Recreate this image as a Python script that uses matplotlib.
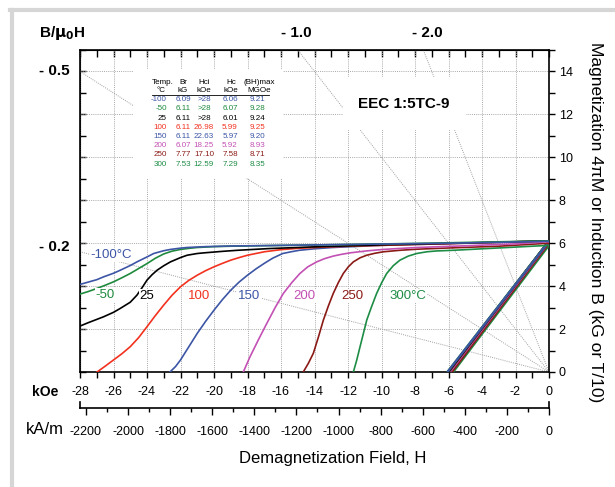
import matplotlib
matplotlib.use("Agg")
import matplotlib.pyplot as plt
from matplotlib import font_manager
from matplotlib.patches import Rectangle
from matplotlib.lines import Line2D

# fonts: narrow face for the tick numbers if it is there
names = {f.name for f in font_manager.fontManager.ttflist}
base = "Liberation Sans" if "Liberation Sans" in names else "DejaVu Sans"
narrow = "Liberation Sans Narrow" if "Liberation Sans Narrow" in names else base
plt.rcParams['font.family'] = [base, 'DejaVu Sans']
plt.rcParams['axes.unicode_minus'] = False

# temperatures and colours of each curve
temps = ['-100', '-50', '25', '100', '150', '200', '250', '300']
colors = ['#3c55a5', '#1f8a3e', '#000000', '#f2311f', '#3c55a5', '#c350b4', '#8a1a16', '#1d8c45']

# intrinsic (4piM) curves, H in kOe, 4piM in kG
H_int = [
    [-28, -27, -26.6, -26, -25.6, -25, -24.6, -24, -23.6, -23, -22.6, -22, -21.6, -20.5,
     -19, -16.7, -14, -10, -6, -3, 0],
    [-28, -27.5, -27, -26.5, -26, -25.5, -25, -24.5, -24, -23.5, -23, -22.5, -22, -21.5,
     -21, -20, -19, -16.7, -12, -8, -4, 0],
    [-28, -27.5, -27, -26.6, -26, -25.6, -25, -24.6, -24.3, -24, -23.7, -23.4, -23, -22.6,
     -22, -21.6, -21, -20.6, -19.5, -18.6, -16.7, -14, -10, -6, -3, 0],
    [-26.98, -26.5, -26, -25.5, -25, -24.5, -24, -23.5, -23, -22.5, -22, -21.5, -21, -20.5,
     -20, -19.5, -19, -18.5, -18, -17, -16, -15, -13.5, -12, -10, -8, -4, 0],
    [-22.63, -22.3, -22, -21.5, -21, -20.5, -20, -19.5, -19, -18.5, -18, -17.5, -17, -16.5,
     -15.9, -15.4, -14.9, -14, -12.9, -11.5, -10, -6, -3, 0],
    [-18.25, -17.85, -17.35, -16.85, -16.35, -15.86, -15.35, -14.87, -14.4, -13.87, -13.4,
     -12.88, -12.4, -11.88, -10.9, -9.9, -7.9, -5, -2, 0],
    [-14.67, -14.37, -14.07, -13.77, -13.47, -13.17, -12.88, -12.58, -12.28, -11.98, -11.68,
     -11.28, -10.88, -10.4, -9.89, -8.9, -7.9, -5.91, -3, 0],
    [-11.68, -11.48, -11.28, -11.08, -10.88, -10.59, -10.29, -9.99, -9.69, -9.3, -8.9, -8.4,
     -7.9, -7.3, -6.7, -5.71, -3.72, -1.73, 0],
]
B_int = [
    [4.08, 4.30, 4.43, 4.60, 4.74, 4.96, 5.13, 5.36, 5.52, 5.65, 5.71, 5.77, 5.80, 5.84,
     5.87, 5.89, 5.92, 5.96, 6.00, 6.04, 6.09],
    [3.63, 3.75, 3.89, 4.04, 4.20, 4.39, 4.59, 4.82, 5.05, 5.30, 5.50, 5.63, 5.71, 5.76,
     5.80, 5.84, 5.86, 5.89, 5.94, 5.99, 6.05, 6.11],
    [2.14, 2.30, 2.45, 2.57, 2.78, 2.96, 3.25, 3.58, 3.92, 4.28, 4.53, 4.74, 4.95, 5.13,
     5.33, 5.44, 5.52, 5.55, 5.62, 5.67, 5.75, 5.83, 5.92, 5.99, 6.05, 6.11],
    [0.0, 0.27, 0.56, 0.85, 1.18, 1.60, 2.11, 2.63, 3.12, 3.58, 3.97, 4.27, 4.51, 4.72,
     4.90, 5.06, 5.21, 5.33, 5.44, 5.60, 5.70, 5.76, 5.82, 5.86, 5.90, 5.94, 6.02, 6.11],
    [0.0, 0.25, 0.56, 1.18, 1.80, 2.36, 2.88, 3.37, 3.81, 4.19, 4.51, 4.80, 5.06, 5.30,
     5.52, 5.60, 5.67, 5.74, 5.80, 5.85, 5.90, 5.98, 6.04, 6.11],
    [0.0, 0.71, 1.50, 2.26, 3.00, 3.66, 4.17, 4.59, 4.90, 5.13, 5.28, 5.40, 5.48, 5.55,
     5.64, 5.71, 5.80, 5.88, 5.97, 6.07],
    [0.0, 0.40, 0.87, 1.62, 2.42, 3.08, 3.66, 4.16, 4.59, 4.90, 5.13, 5.32, 5.44, 5.53,
     5.60, 5.67, 5.72, 5.78, 5.86, 6.00],
    [0.0, 0.55, 1.18, 1.80, 2.42, 3.05, 3.66, 4.16, 4.59, 4.95, 5.21, 5.40, 5.52, 5.60,
     5.64, 5.67, 5.75, 5.83, 5.90],
]

# normal B-H lines: end points (Hc, 0) and (0, Br)
Hc_line = [-6.06, -6.07, -6.01, -5.99, -5.97, -5.92, -5.80, -5.72]
Br_line = [6.09, 6.11, 6.11, 6.11, 6.11, 6.07, 6.00, 5.90]

# permeance coefficient lines B/H
permeance = [0.2, 0.5, 1.0, 2.0]

# data table
tab_temp = ['-100', '-50', '25', '100', '150', '200', '250', '300']
tab_br = ['6.09', '6.11', '6.11', '6.11', '6.11', '6.07', '7.77', '7.53']
tab_hci = ['>28', '>28', '>28', '26.98', '22.63', '18.25', '17.10', '12.59']
tab_hc = ['6.06', '6.07', '6.01', '5.99', '5.97', '5.92', '7.58', '7.29']
tab_bh = ['9.21', '9.28', '9.24', '9.25', '9.20', '8.93', '8.71', '8.35']

W, Hpx = 615, 487
fig = plt.figure(figsize=(W / 100, Hpx / 100), dpi=100)


def fx(x):
    return x / W


def fy(y):
    return 1 - y / Hpx


# light frame round the panel
fig.add_artist(Line2D([fx(12), fx(12)], [fy(10), 0], color='#d6d6d6', lw=3))
fig.add_artist(Line2D([fx(10), 1], [fy(10), fy(10)], color='#d6d6d6', lw=3))

ax = fig.add_axes([fx(80), fy(372), fx(549) - fx(80), fy(50) - fy(372)])
ax.set_xlim(-28, 0)
ax.set_ylim(0, 15)
ax.set_axisbelow(True)

for s in ax.spines.values():
    s.set_linewidth(1.2)

# grid every 2 units
ax.set_xticks(range(-28, 1, 2))
ax.set_xticks(range(-28, 1, 1), minor=True)
ax.set_yticks(range(0, 15, 2))
ax.set_yticks(range(0, 16, 1), minor=True)
ax.grid(True, which='major', color='#a8a8a8', lw=0.7, ls=(0, (1, 1.2)))

# bottom and right ticks point out and carry the labels
ax.tick_params(axis='x', which='both', bottom=True, top=False, direction='out',
               labelsize=9, pad=6, width=1.0, length=4)
ax.tick_params(axis='y', which='both', left=False, right=True, direction='out',
               labelleft=False, labelright=True, labelsize=9, pad=3, width=1.0, length=4)
for lab in ax.get_xticklabels() + ax.get_yticklabels():
    lab.set_family([narrow, 'DejaVu Sans'])

# top and left ticks point in, no labels
top = ax.secondary_xaxis('top')
top.set_xticks(range(-28, 1, 1))
top.tick_params(direction='in', length=5, width=1.0, labeltop=False)
left = ax.secondary_yaxis('left')
left.set_yticks(range(0, 16, 1))
left.tick_params(direction='in', length=4, width=1.0, labelleft=False)

# load lines from the origin
for p in permeance:
    ax.plot([0, -28], [0, 28 * p], color='#a0a0a0', lw=0.7, ls=(0, (1, 1.2)), zorder=1)

# white boxes behind table and title
ax.add_patch(Rectangle((fx(133), fy(178)), fx(283) - fx(133), fy(70) - fy(178),
                       transform=fig.transFigure, facecolor='white', edgecolor='none', zorder=1.5))
ax.add_patch(Rectangle((fx(343), fy(130)), fx(466) - fx(343), fy(77) - fy(130),
                       transform=fig.transFigure, facecolor='white', edgecolor='none', zorder=1.5))

# normal curves
for i in range(len(temps) - 1, -1, -1):
    ax.plot([Hc_line[i], 0], [0, Br_line[i]], color=colors[i], lw=1.6, zorder=3,
            solid_capstyle='butt')

# intrinsic curves
for i in range(len(temps) - 1, -1, -1):
    ax.plot(H_int[i], B_int[i], color=colors[i], lw=1.2, zorder=3)

# curve labels
curve_lab = ['-100°C', '-50', '25', '100', '150', '200', '250', '300°C']
lab_x = [111, 105, 147, 199, 249, 304, 352, 408]
lab_y = [255, 295, 296, 296, 296, 296, 296, 296]
for i in range(len(curve_lab)):
    fig.text(fx(lab_x[i]), fy(lab_y[i]), curve_lab[i], color=colors[i], fontsize=9.5,
             ha='center', va='center', zorder=5,
             bbox=dict(facecolor='white', edgecolor='none', pad=0.5))

fig.text(fx(404), fy(104), 'EEC 1:5TC-9', fontsize=11, fontweight='bold',
         ha='center', va='center')

# table
ts = 5.8
fig.text(fx(152), fy(82), 'Temp.', fontsize=ts, ha='left', va='center')
fig.text(fx(161), fy(91), '°C', fontsize=ts, ha='center', va='center')
heads = [('Br', 'kG', 183), ('Hci', 'kOe', 204), ('Hc', 'kOe', 231), ('(BH)max', 'MGOe', 259)]
for h1, h2, x in heads:
    fig.text(fx(x), fy(82), h1, fontsize=ts, ha='center', va='center')
    fig.text(fx(x), fy(91), h2, fontsize=ts, ha='center', va='center')
fig.add_artist(Line2D([fx(152), fx(269)], [fy(95.5), fy(95.5)], color='black', lw=0.6))
row_y = [100, 109, 118, 127.3, 136.5, 145.7, 155, 164]
for i in range(len(tab_temp)):
    y = fy(row_y[i])
    fig.text(fx(167), y, tab_temp[i], fontsize=ts, color=colors[i], ha='right', va='center')
    fig.text(fx(183), y, tab_br[i], fontsize=ts, color=colors[i], ha='center', va='center')
    fig.text(fx(204), y, tab_hci[i], fontsize=ts, color=colors[i], ha='center', va='center')
    fig.text(fx(230), y, tab_hc[i], fontsize=ts, color=colors[i], ha='center', va='center')
    fig.text(fx(257), y, tab_bh[i], fontsize=ts, color=colors[i], ha='center', va='center')

# permeance labels
bold = dict(fontsize=11, fontweight='bold', ha='center', va='center')
fig.text(fx(62), fy(33), r'B/$\mathbf{\mu_0}$H', **bold)
fig.text(fx(54), fy(71), '- 0.5', **bold)
fig.text(fx(54), fy(247), '- 0.2', **bold)
fig.text(fx(296), fy(33), '- 1.0', **bold)
fig.text(fx(427), fy(33), '- 2.0', **bold)

# second field scale in kA/m
KA = 79.577
sec = ax.secondary_xaxis(-0.112, functions=(lambda h: h * KA, lambda j: j / KA))
sec.set_xticks(range(-2200, 1, 200))
sec.set_xticks(range(-2200, 1, 100), minor=True)
sec.tick_params(which='both', direction='out', labelsize=9, pad=8, width=1.0)
sec.tick_params(which='major', length=5)
sec.tick_params(which='minor', length=3)
sec.spines['bottom'].set_linewidth(1.2)
for lab in sec.get_xticklabels():
    lab.set_family([narrow, 'DejaVu Sans'])
# end caps of the kA/m scale
for xe in (-28, 0):
    ax.plot([xe, xe], [-0.112, -0.092], transform=ax.get_xaxis_transform(),
            color='black', lw=1.2, clip_on=False)

fig.text(fx(45), fy(392), 'kOe', fontsize=10, fontweight='bold', ha='center', va='center')
fig.text(fx(45), fy(430), 'kA/m', fontsize=12, ha='center', va='center')
fig.text(fx(333), fy(458), 'Demagnetization Field, H', fontsize=12, ha='center', va='center')
fig.text(fx(596), fy(222), 'Magnetization 4\u03c0M or Induction B (kG or T/10)',
         fontsize=12.5, rotation=270, ha='center', va='center')

fig.savefig('out.png', dpi=100)
